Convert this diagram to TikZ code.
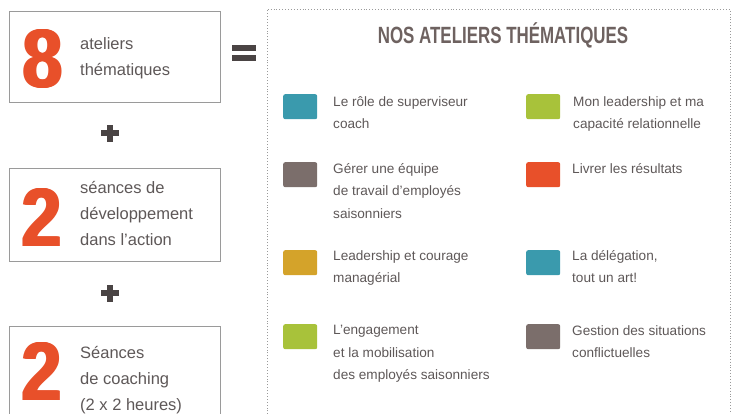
\documentclass[tikz,border=0pt]{standalone}
\usepackage{fontspec}
\setmainfont{Liberation Sans}
\definecolor{txt}{HTML}{5E5858}
\definecolor{frame}{HTML}{9A9A9A}
\definecolor{orng}{HTML}{E8502A}
\definecolor{teal}{HTML}{3A9AAD}
\definecolor{lgreen}{HTML}{A8C23A}
\definecolor{taupe}{HTML}{7B6E6B}
\definecolor{mustard}{HTML}{D4A32A}
\definecolor{ttl}{HTML}{6E6260}
\definecolor{sym}{HTML}{4A4444}
\newcommand{\heavydigit}[3]{%
  \foreach \dx in {-1.3,-0.65,0,0.65,1.3}{
    \node[bigdigit] at ($(#1,#2)+(\dx,0)$) {\scalebox{0.86}[1]{#3}};
  }}
\usetikzlibrary{calc}
\begin{document}
\begin{tikzpicture}[x=1pt,y=-1pt,
  leftbox/.style={draw=frame,line width=0.8pt,fill=white},
  bigdigit/.style={text=orng,font=\fontsize{83}{83}\selectfont\bfseries,inner sep=0pt,anchor=center},
  lefttxt/.style={text=txt,font=\fontsize{16.5}{26}\selectfont,align=left,anchor=west,inner sep=0pt},
  swatch/.style={rounded corners=2pt,minimum width=34pt,minimum height=25pt,inner sep=0pt,anchor=north west},
  itemtxt/.style={text=txt,font=\fontsize{13.6}{22.5}\selectfont,align=left,anchor=north west,inner sep=0pt},
  symbar/.style={fill=sym,draw=none}]
\useasboundingbox (0,0) rectangle (732,413);
% left boxes
\draw[leftbox] (9,11) rectangle (220,102);
\heavydigit{43}{59}{8}
\node[lefttxt] (t1) at (80,58) {ateliers\\thématiques};
\draw[leftbox] (9,168) rectangle (220,261);
\heavydigit{42}{218}{2}
\node[lefttxt] (t2) at (80,214) {séances de\\développement\\dans l’action};
\draw[leftbox] (9,326) rectangle (220,420);
\heavydigit{42}{372}{2}
\node[lefttxt] (t3) at (80,380) {Séances\\de coaching\\(2 x 2 heures)};
% plus signs
\foreach \yy/\nm in {133/p1,293/p2}{
  \fill[sym] (101,\yy-2.6) rectangle (119,\yy+2.6);
  \fill[sym] (107.4,\yy-8.5) rectangle (112.6,\yy+8.5);
  \coordinate (\nm) at (110,\yy);
}
% equals
\fill[sym] (232,45) rectangle (256,50.5);
\fill[sym] (232,55) rectangle (256,60.5);
% right dotted box
\draw[frame,dotted,line width=0.9pt] (267,420) -- (267,9) -- (730,9) -- (730,420);
\node[text=ttl,font=\fontsize{23.5}{23.5}\selectfont\bfseries,inner sep=0pt] (title) at (503,35) {\scalebox{0.72}[1]{NOS ATELIERS THÉMATIQUES}};
% items
\node[swatch,fill=teal] (s1) at (283,94) {};
\node[itemtxt] (i1) at (333,96) {Le rôle de superviseur\\coach};
\node[swatch,fill=lgreen] (s2) at (526,94) {};
\node[itemtxt] (i2) at (573,96) {Mon leadership et ma\\capacité relationnelle};
\node[swatch,fill=taupe] (s3) at (283,162) {};
\node[itemtxt] (i3) at (333,163) {Gérer une équipe\\de travail d’employés\\saisonniers};
\node[swatch,fill=orng] (s4) at (526,162) {};
\node[itemtxt] (i4) at (572,163) {Livrer les résultats};
\node[swatch,fill=mustard] (s5) at (283,250) {};
\node[itemtxt] (i5) at (333,250) {Leadership et courage\\managérial};
\node[swatch,fill=teal] (s6) at (526,250) {};
\node[itemtxt] (i6) at (572,250) {La délégation,\\tout un art!};
\node[swatch,fill=lgreen] (s7) at (283,324) {};
\node[itemtxt] (i7) at (333,325) {L’engagement\\et la mobilisation\\des employés saisonniers};
\node[swatch,fill=taupe] (s8) at (526,324) {};
\node[itemtxt] (i8) at (572,325) {Gestion des situations\\conflictuelles};
\end{tikzpicture}
\end{document}
